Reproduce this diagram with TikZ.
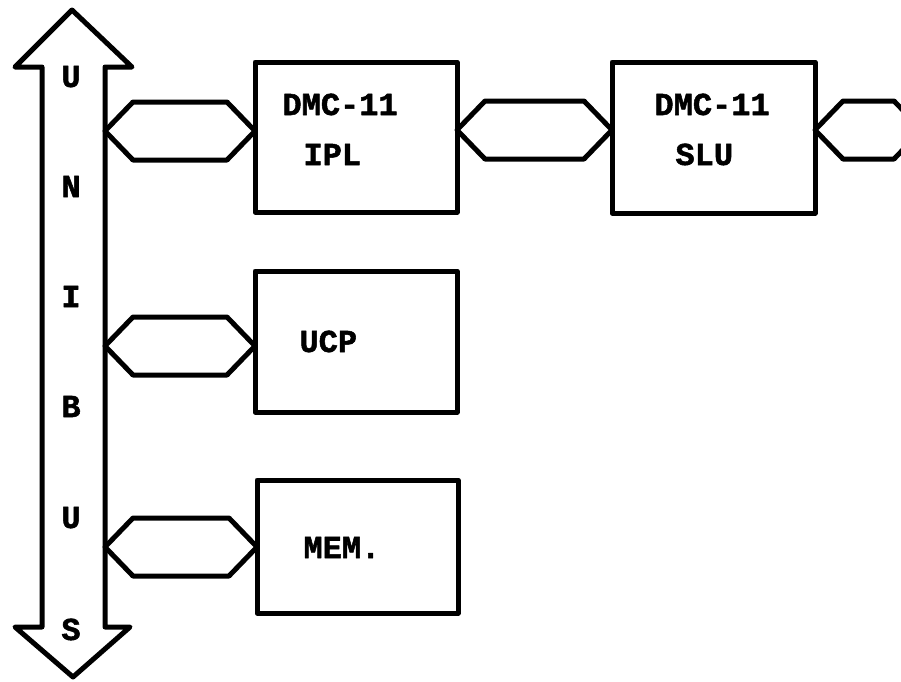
\documentclass[tikz,border=0pt]{standalone}
\usepackage{fontspec}
\usepackage{tikz}
\usetikzlibrary{calc}
\newfontfamily\termfont{Liberation Mono}[BoldFeatures={FakeBold=1.6}]

% hexagonal link between two points
\newcommand{\hexlink}[2]{%
  \draw[link] (#1) -- ($(#1)+(28,29)$) -- ($(#2)+(-28,29)$) -- (#2)
    -- ($(#2)+(-28,-29)$) -- ($(#1)+(28,-29)$) -- cycle;}

\begin{document}
\begin{tikzpicture}[x=1pt,y=-1pt,line width=5pt,line join=round,
    box/.style={draw,rectangle,outer sep=0pt,inner sep=0pt},
    link/.style={draw,fill=white},
    lbl/.style={inner sep=0pt,font=\termfont\bfseries\fontsize{32}{40}\selectfont}]
        \useasboundingbox (0,0) rectangle (901,681);
        \clip (0,0) rectangle (901,681);

        % the bus
        \draw (72,10) -- (132,67) -- (105,67) -- (105,627) -- (130,627) -- (73,677)
              -- (15,627) -- (42,627) -- (42,67) -- (15,67) -- cycle;
        \foreach \ch/\y [count=\i] in {U/87,N/197,I/307,B/417,U/528,S/640}
            \node[lbl, anchor=base] (bus\i) at (71,\y) {\ch};

        % boxes
        \node[box, minimum width=202, minimum height=150] (ipl) at (356,137) {};
        \node[box, minimum width=203, minimum height=151] (slu) at (713.5,137.5) {};
        \node[box, minimum width=202, minimum height=141] (ucp) at (356,341.5) {};
        \node[box, minimum width=201, minimum height=133] (mem) at (357.5,546.5) {};

        \node[lbl, anchor=base west] (ipl1) at (280,115) {DMC-11};
        \node[lbl, anchor=base west] (ipl2) at (301,165) {IPL};
        \node[lbl, anchor=base west] (slu1) at (652,115) {DMC-11};
        \node[lbl, anchor=base west] (slu2) at (673,165) {SLU};
        \node[lbl, anchor=base west] (ucp1) at (297,352) {UCP};
        \node[lbl, anchor=base west] (mem1) at (301,558) {MEM.};

        % ports
        \coordinate (p1) at (105,131);
        \coordinate (p2) at (105,346);
        \coordinate (p3) at (105,547);
        \coordinate (q1) at (ipl.east |- 0,130);
        \coordinate (q2) at (slu.east |- 0,130);
        \coordinate (q3) at (922,130);

        \hexlink{p1}{p1 -| ipl.west}
        \hexlink{p2}{p2 -| ucp.west}
        \hexlink{p3}{p3 -| mem.west}
        \hexlink{q1}{q1 -| slu.west}
        \hexlink{q2}{q3}
    \end{tikzpicture}
\end{document}
